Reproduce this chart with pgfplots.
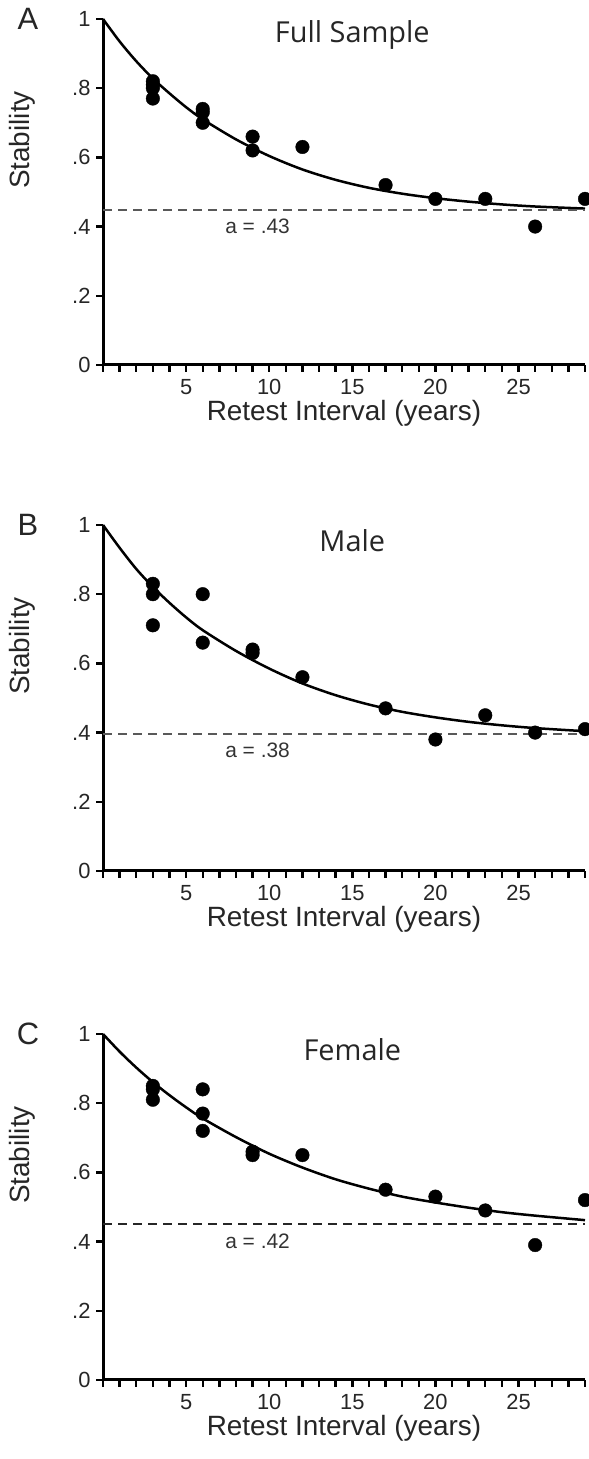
\documentclass[border=0pt]{standalone}
\usepackage{fontspec}
\setmainfont{Liberation Sans}
\newfontfamily\titlefont{Open Sans}
\usepackage{pgfplots}
\pgfplotsset{compat=1.18}
\usetikzlibrary{calc}

\pgfplotsset{
  stab/.style={
    scale only axis, width=482bp, height=346bp,
    xmin=0, xmax=29, ymin=0, ymax=1,
    clip=false,
    axis x line*=bottom, axis y line*=left,
    every inner x axis line/.append style={line width=3bp},
    every inner y axis line/.append style={line width=3bp},
    every outer x axis line/.append style={line width=3bp},
    every outer y axis line/.append style={line width=3bp},
    tick style={black, line width=2.4bp},
    tick align=outside,
    major tick length=7bp, minor tick length=7bp,
    xtick={5,10,15,20,25}, xticklabels={5,10,15,20,25},
    minor xtick={0,1,...,29},
    ytick={0,0.2,0.4,0.6,0.8,1}, yticklabels={0,.2,.4,.6,.8,1},
    ticklabel style={font=\fontsize{22}{22}\selectfont, text=black!85},
    xticklabel style={yshift=-4bp},
    yticklabel style={xshift=-2bp},
    xlabel={Retest Interval (years)},
    xlabel style={font=\fontsize{28}{28}\selectfont, text=black!85, yshift=2bp},
    /pgf/number format/assume math mode=true,
  },
  fit/.style={black, line width=2.5bp, smooth, no marks},
  obs/.style={only marks, mark=*, mark size=6.8bp, black},
  asym/.style={black!65, line width=2bp, dash pattern=on 9bp off 6bp, no marks},
}

% panel letter, title, y-axis label
\newcommand{\panel}[2]{%
  \node[font=\fontsize{31}{31}\selectfont, text=black!85] at ($(rel axis cs:0,1)+(-75bp,0)$) {#1};
  \node[font=\titlefont\fontsize{29}{29}\selectfont, text=black!85] at (axis cs:15,0.955) {#2};
  \node[font=\fontsize{28}{28}\selectfont, text=black!85, rotate=90] at ($(rel axis cs:0,0.65)+(-81bp,0)$) {Stability};
}

\begin{document}
\begin{tikzpicture}[x=1bp, y=1bp]
\useasboundingbox (0,0) rectangle (589,1459);

% ---- A: full sample
\begin{axis}[stab, at={(103bp,1094bp)}, anchor=south west]
  \addplot[fit] coordinates {
    (0,1.000)(1,0.935)(2,0.878)(3,0.828)(4,0.785)(5,0.745)(6,0.710)
    (8,0.652)(10,0.604)(12,0.565)(14,0.535)(16,0.512)(18,0.495)
    (20,0.482)(22,0.472)(24,0.464)(26,0.458)(29,0.452)};
  \addplot[asym] coordinates {(0,0.448)(29,0.448)};
  \addplot[obs] coordinates {
    (3,0.82)(3,0.81)(3,0.80)(3,0.77)
    (6,0.74)(6,0.73)(6,0.70)
    (9,0.66)(9,0.62)
    (12,0.63)(17,0.52)(20,0.48)(23,0.48)(26,0.40)(29,0.48)};
  \panel{A}{Full Sample}
  \node[font=\fontsize{21}{21}\selectfont, text=black!80] at (axis cs:9.3,0.40) {a = .43};
\end{axis}

% ---- B: male
\begin{axis}[stab, at={(103bp,588bp)}, anchor=south west]
  \addplot[fit] coordinates {
    (0,1.000)(1,0.934)(2,0.873)(3,0.821)(4,0.775)(5,0.733)(6,0.696)
    (8,0.636)(10,0.585)(12,0.542)(14,0.508)(16,0.481)(18,0.460)
    (20,0.444)(22,0.431)(24,0.421)(26,0.413)(29,0.404)};
  \addplot[asym] coordinates {(0,0.395)(29,0.395)};
  \addplot[obs] coordinates {
    (3,0.83)(3,0.80)(3,0.71)
    (6,0.80)(6,0.66)
    (9,0.64)(9,0.63)
    (12,0.56)(17,0.47)(20,0.38)(23,0.45)(26,0.40)(29,0.41)};
  \panel{B}{Male}
  \node[font=\fontsize{21}{21}\selectfont, text=black!80] at (axis cs:9.3,0.35) {a = .38};
\end{axis}

% ---- C: female
\begin{axis}[stab, at={(103bp,79bp)}, anchor=south west]
  \addplot[fit] coordinates {
    (0,1.000)(1,0.949)(2,0.903)(3,0.861)(4,0.823)(5,0.788)(6,0.756)
    (8,0.702)(10,0.654)(12,0.614)(14,0.580)(16,0.553)(18,0.530)
    (20,0.513)(22,0.498)(24,0.485)(26,0.475)(29,0.462)};
  \addplot[asym, black!85] coordinates {(0,0.452)(29,0.452)};
  \addplot[obs] coordinates {
    (3,0.85)(3,0.84)(3,0.81)
    (6,0.84)(6,0.77)(6,0.72)
    (9,0.66)(9,0.65)
    (12,0.65)(17,0.55)(20,0.53)(23,0.49)(26,0.39)(29,0.52)};
  \panel{C}{Female}
  \node[font=\fontsize{21}{21}\selectfont, text=black!80] at (axis cs:9.3,0.40) {a = .42};
\end{axis}
\end{tikzpicture}
\end{document}
